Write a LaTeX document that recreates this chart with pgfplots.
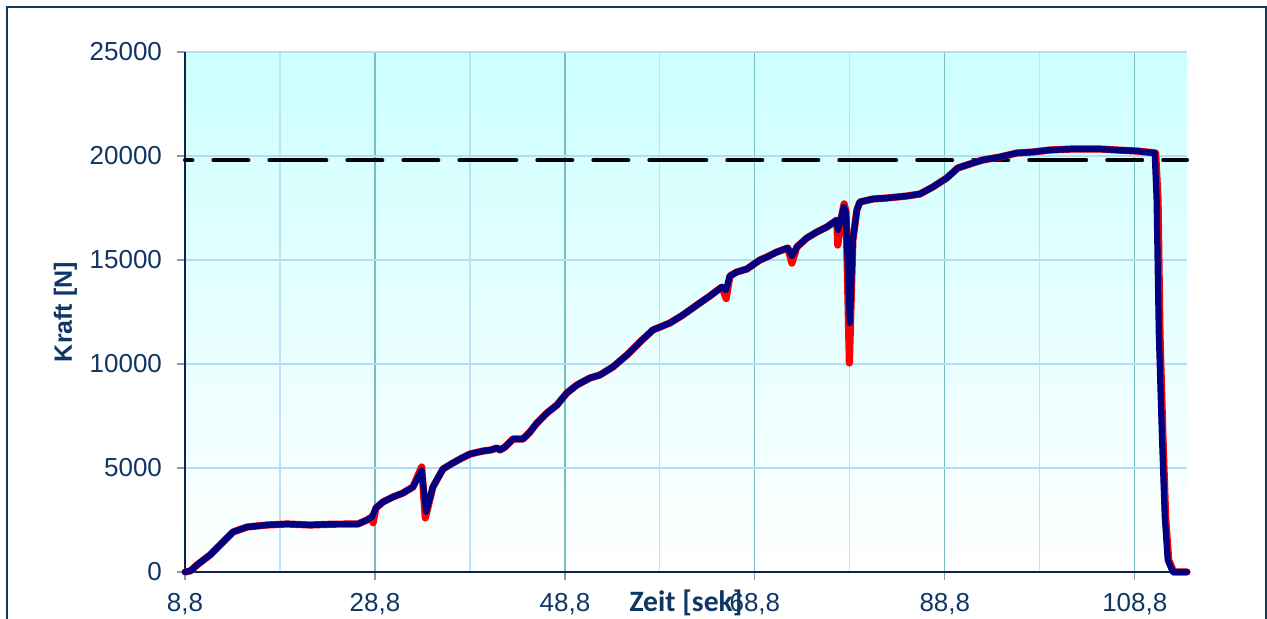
\documentclass[border=0pt]{standalone}
\usepackage{pgfplots}
\pgfplotsset{compat=1.18}
\usepackage{fontspec}
\setmainfont{Liberation Sans}
\newfontfamily\carlito{Carlito}
\definecolor{txt}{RGB}{15,55,100}
\definecolor{axlc}{RGB}{10,35,80}
\definecolor{framec}{RGB}{20,55,95}
\definecolor{tickc}{RGB}{140,150,175}
\definecolor{gridmaj}{RGB}{120,190,190}
\definecolor{gridmin}{RGB}{190,225,245}
\definecolor{gridy}{RGB}{180,220,245}
\definecolor{bgtop}{RGB}{204,255,255}
\definecolor{navyc}{RGB}{0,0,128}
\pgfplotstableread{
x y
8.8 0
9.4 60
10.06 337
11.43 817
12.8 1442
13.85 1923
15.33 2163
17.43 2260
19.54 2308
21.96 2260
24.38 2300
27.01 2308
27.96 2500
28.48 2644
28.9 3077
29.64 3366
30.69 3606
31.75 3798
32.8 4087
33.72 4880
34.2 2900
34.9 4087
35.96 4952
37.0 5240
37.96 5481
38.8 5673
40.17 5817
41.0 5866
41.64 5962
41.96 5866
42.5 6010
43.33 6394
44.38 6394
45.12 6731
45.85 7163
46.9 7644
47.96 8029
49.0 8606
50.06 8990
51.43 9327
52.48 9471
53.85 9856
55.33 10433
56.7 11058
58.06 11635
59.85 11972
61.22 12356
62.7 12837
64.06 13270
65.33 13702
65.75 13558
66.17 14231
66.9 14423
67.96 14567
69.33 15000
70.06 15144
71.12 15385
72.27 15577
72.7 15192
73.22 15625
74.27 16058
75.33 16346
76.38 16587
77.43 16923
77.54 16442
77.96 17163
78.17 17548
78.38 17260
78.8 11971
79.12 15962
79.54 17404
79.85 17788
81.22 17933
82.7 17981
84.8 18077
86.17 18173
87.54 18510
89.0 18942
90.17 19423
91.75 19663
92.8 19808
94.6 19952
96.38 20144
98.06 20192
99.85 20288
102.27 20337
105.12 20337
106.9 20288
109.0 20240
110.9 20144
111.1 17885
111.33 11490
111.65 6683
111.96 2644
112.27 577
112.8 0
114.3 0
}\bluedata
\pgfplotstableread{
x y
8.8 0
9.4 60
10.06 337
11.43 817
12.8 1442
13.85 1923
15.33 2163
17.43 2260
19.54 2308
21.96 2260
24.38 2300
27.01 2308
27.96 2500
28.48 2644
28.6 2370
28.9 3077
29.64 3366
30.69 3606
31.75 3798
32.8 4087
33.72 5050
34.1 2600
34.9 4087
35.96 4952
37.0 5240
37.96 5481
38.8 5673
40.17 5817
41.0 5866
41.64 5962
41.96 5866
42.5 6010
43.33 6394
44.38 6394
45.12 6731
45.85 7163
46.9 7644
47.96 8029
49.0 8606
50.06 8990
51.43 9327
52.48 9471
53.85 9856
55.33 10433
56.7 11058
58.06 11635
59.85 11972
61.22 12356
62.7 12837
64.06 13270
65.33 13702
65.78 13150
66.17 14231
66.9 14423
67.96 14567
69.33 15000
70.06 15144
71.12 15385
72.27 15577
72.7 14850
73.22 15625
74.27 16058
75.33 16346
76.38 16587
77.43 16923
77.52 15720
77.96 17163
78.2 17700
78.4 17300
78.75 10050
79.12 15962
79.54 17404
79.85 17788
81.22 17933
82.7 17981
84.8 18077
86.17 18173
87.54 18510
89.0 18942
90.17 19423
91.75 19663
92.8 19808
94.6 19952
96.38 20144
98.06 20192
99.85 20288
102.27 20337
105.12 20337
106.9 20288
109.0 20240
111.0 20144
111.25 17885
111.45 11490
111.75 6683
112.05 2644
112.37 577
112.9 0
114.3 0
}\reddata
\begin{document}
\begin{tikzpicture}[x=1pt,y=1pt]
\useasboundingbox (0,0) rectangle (633.5,309);
\draw[framec, line width=1pt] (3.5,-20) -- (3.5,305.5) -- (633,305.5) -- (633,-20);
\begin{axis}[
  at={(92.5pt,23pt)}, anchor=south west,
  scale only axis, width=501pt, height=260pt,
  xmin=8.8, xmax=114.3, ymin=0, ymax=25000,
  scaled y ticks=false, scaled x ticks=false,
  axis x line*=bottom, axis y line*=left,
  axis line style={axlc, line width=0.75pt, -},
  axis background/.style={top color=bgtop, bottom color=white},
  xtick={8.8,28.8,48.8,68.8,88.8,108.8},
  xticklabels={{8,8},{28,8},{48,8},{68,8},{88,8},{108,8}},
  minor xtick={18.8,38.8,58.8,78.8,98.8},
  ytick={0,5000,10000,15000,20000,25000},
  yticklabels={0,5000,10000,15000,20000,25000},
  xmajorgrids, xminorgrids, ymajorgrids,
  major x grid style={gridmaj, line width=0.6pt},
  minor x grid style={gridmin, line width=0.6pt},
  major y grid style={gridy, line width=0.8pt},
  tick align=outside,
  major tick length=4pt, minor tick length=0pt,
  tick style={tickc, line width=0.6pt},
  ticklabel style={font=\fontsize{13}{15}\selectfont, text=txt},
  xticklabel style={anchor=base, yshift=-15.5pt},
  yticklabel style={anchor=east, xshift=-4pt},
  xlabel={Zeit [sek]},
  ylabel={Kraft [N]},
  xlabel style={at={(axis description cs:0.5,-0.075)}, anchor=base, font=\carlito\bfseries\fontsize{14.8}{17}\selectfont, text=txt},
  ylabel style={at={(axis description cs:-0.11926,0.5)}, anchor=center, rotate=0, font=\bfseries\fontsize{12.5}{15}\selectfont, text=txt},
  clip=false,
]
\addplot[black, line width=2pt, line cap=round, dash pattern=on 17.5pt off 10.5pt, dash phase=13.8pt] coordinates {(8.8,19800) (20,19800)};
\addplot[black, line width=2pt, line cap=round, dash pattern=on 17.5pt off 10.5pt] coordinates {(20,19800) (40,19800)};
\addplot[black, line width=2pt, line cap=round, dash pattern=on 17.5pt off 10.5pt] coordinates {(40,19800) (60,19800)};
\addplot[black, line width=2pt, line cap=round, dash pattern=on 17.5pt off 10.5pt] coordinates {(60,19800) (80,19800)};
\addplot[black, line width=2pt, line cap=round, dash pattern=on 17.5pt off 10.5pt] coordinates {(80,19800) (100,19800)};
\addplot[black, line width=2pt, line cap=round, dash pattern=on 17.5pt off 10.5pt] coordinates {(100,19800) (114.3,19800)};
\addplot[red, line width=3.6pt, line join=round, line cap=round] table[x=x,y=y] {\reddata};
\addplot[navyc, line width=3.1pt, line join=round, line cap=round] table[x=x,y=y] {\bluedata};
\end{axis}
\end{tikzpicture}
\end{document}
